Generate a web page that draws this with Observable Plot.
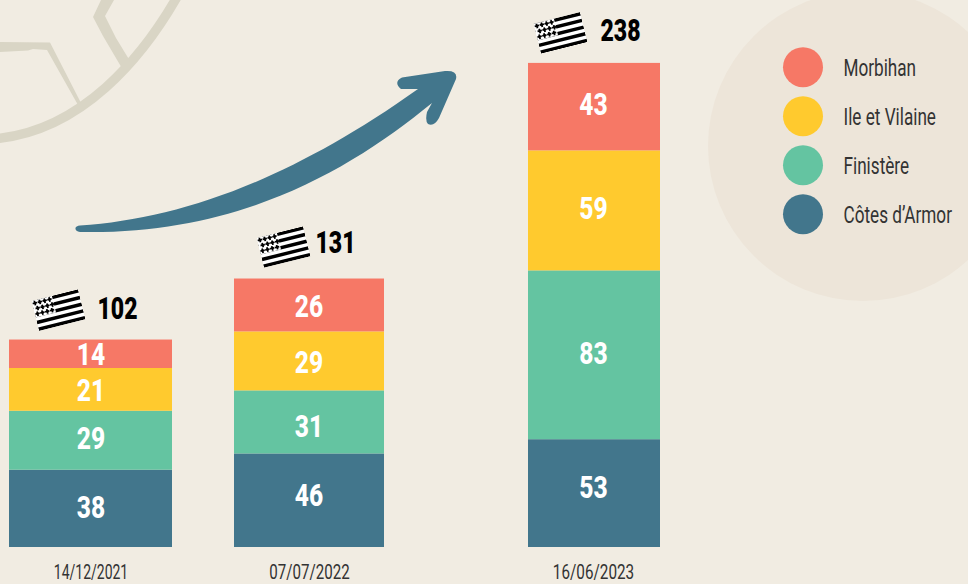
<!DOCTYPE html>
<html><head><meta charset="utf-8">
<script src="https://cdn.jsdelivr.net/npm/d3@7"></script>
<script src="https://cdn.jsdelivr.net/npm/@observablehq/plot@0.6"></script>
<style>
html,body{margin:0;padding:0;background:#f1ece2;overflow:hidden}
svg{display:block;background:transparent}
</style></head><body>
<div id="chart"></div>
<script>
const dates = ["14/12/2021", "07/07/2022", "16/06/2023"];
const departments = ["Morbihan", "Ile et Vilaine", "Finistère", "Côtes d’Armor"];
const stackOrder = ["Côtes d’Armor", "Finistère", "Ile et Vilaine", "Morbihan"];
const cotes = [38, 46, 53];
const finistere = [29, 31, 83];
const ille = [21, 29, 59];
const morbihan = [14, 26, 43];
const totals = [102, 131, 238];
const palette = ["#f67866", "#ffca2e", "#64c4a1", "#42768c"];

// layout (in x-scale units, one per pixel)
const barLeft = [9, 234, 528];
const barRight = [172, 384, 660];
const flagX = [58, 283, 560];
const totalX = [117, 335, 620];
const flagLift = [30, 32, 30.5];
const totalLift = [31.5, 36, 33];
const labelShift = [0, -0.5, -1];
const dateShift = [0, 0, -1];
const dateSqueeze = [0.70, 0.755, 0.765];
const labelNudge = [[1, 5, 6], [2, -4.5, 1.5], [-0.5, -1.5, 2.5], [-0.5, -1, 2.5]];
const unit = 2.034;

const seriesValues = [cotes, finistere, ille, morbihan];
const rows = stackOrder.flatMap((name, s) => dates.map((date, i) => ({
  date, name, value: seriesValues[s][i],
  base: d3.sum(seriesValues.slice(0, s), v => v[i]),
  nudge: labelNudge[s][i],
  left: barLeft[i], right: barRight[i], mid: (barLeft[i] + barRight[i]) / 2 + labelShift[i]
})));
const columns = dates.map((date, i) => ({
  date, total: totals[i],
  top: cotes[i] + finistere[i] + ille[i] + morbihan[i],
  flagX: flagX[i], totalX: totalX[i], flagLift: flagLift[i], totalLift: totalLift[i]
}));
const centers = barLeft.map((l, i) => (l + barRight[i]) / 2 + dateShift[i]);

// Gwenn-ha-du
function flagSvg() {
  const W = 48, H = 31, s = H / 9;
  let p = `<rect width="${W}" height="${H}" fill="#fff"/>`;
  for (let i = 0; i < 9; i += 2) p += `<rect y="${i * s}" width="${W}" height="${s}" fill="#000"/>`;
  p += `<rect width="21" height="${5 * s}" fill="#fff"/>`;
  for (let r = 0; r < 3; r++) for (let c = 0; c < 4; c++) {
    const x = 0.6 + c * 5 + (r % 2 ? 1.5 : 0), y = 0.8 + r * 5.5;
    p += `<path d="M${x + 1.3},${y}h1.8v1.3h1.3v1.8h-1.3v1.5h-1.8v-1.5h-1.3v-1.8h1.3z" fill="#000"/>`;
  }
  return "data:image/svg+xml," + encodeURIComponent(`<svg xmlns="http://www.w3.org/2000/svg" viewBox="0 0 ${W} ${H}" preserveAspectRatio="none">${p}</svg>`);
}
const flagSrc = flagSvg();

const NS = "http://www.w3.org/2000/svg";
function pathEl(d, attrs) {
  const e = document.createElementNS(NS, "path");
  e.setAttribute("d", d);
  for (const k in attrs) e.setAttribute(k, attrs[k]);
  return e;
}
// background shapes (decoration, no data)
function decor() {
  const g = document.createElementNS(NS, "g");
  const c = document.createElementNS(NS, "circle");
  c.setAttribute("cx", 863); c.setAttribute("cy", 146); c.setAttribute("r", 155);
  c.setAttribute("fill", "#ede5d9");
  g.appendChild(c);
  const globe = "#d9d5c5";
  g.appendChild(pathEl("M177,-3 C142,58 82,130 -3,138.5", {fill:"none", stroke:globe, "stroke-width":9.5}));
  g.appendChild(pathEl("M0,42 L50,42.5 L81,103 L78,105 L47,50 L33,49 L28,50.5 L0,52 Z", {fill:globe}));
  g.appendChild(pathEl("M101,0 L93,17 L103,36 L123,70 L130,61 L116,38 L105,16 L114,0 Z", {fill:globe}));
  return g;
}
function arrow() {
  return pathEl("M80,225.5 C180,219 290,180 418,89 L401,89 Q393,82 402,77.5 L445,71 Q458,70 456,79 L439,118 Q434,127 428,124 Q425,121 427,112 L432,103 C350,170 240,235 80,232 Q75,231 75.5,228 Q76,226 80,225.5 Z", {fill:"#42768c"});
}

const font = "Roboto,sans-serif";
const plot = Plot.plot({
  width: 968, height: 584,
  marginTop: 0, marginLeft: 0, marginRight: 0, marginBottom: 37,
  style: {background: "transparent", fontFamily: font},
  x: {domain: [0, 968], range: [0, 968], axis: null},
  y: {domain: [0, 547 / unit], range: [547, 0], axis: null},
  color: {domain: departments, range: palette},
  marks: [
    decor,
    Plot.rectY(rows, Plot.stackY({x: "date", x1: "left", x2: "right", y: "value", fill: "name", order: null})),
    Plot.text(rows, {x: "mid", y: d => d.base + d.value / 2 + d.nudge / unit, text: d => String(d.value),
      fill: "#fff", fontSize: 32, fontWeight: 800, lineAnchor: "middle", className: "value-label"}),
    arrow,
    Plot.image(columns, {x: "flagX", y: d => d.top + d.flagLift / unit, src: () => flagSrc,
      width: 48, height: 31, rotate: -14, preserveAspectRatio: "none"}),
    Plot.text(columns, {x: "totalX", y: d => d.top + d.totalLift / unit, text: d => String(d.total),
      fill: "#000", fontSize: 32, fontWeight: 900, lineAnchor: "middle", className: "total-label"}),
    Plot.axisX({ticks: centers, tickFormat: d => dates[centers.indexOf(d)], tickSize: 0,
      tickPadding: 17.5, fontSize: 20, fill: "#333", label: null}),
    Plot.dot(departments, {x: () => 802.5, y: (d, i) => (547 - (66.7 + 49 * i)) / unit, r: 20, fill: d => d}),
    Plot.text(departments, {x: () => 843, y: (d, i) => (547 - (67.7 + 49 * i)) / unit, text: d => d,
      textAnchor: "start", fill: "#333", fontSize: 23.5, lineAnchor: "middle", className: "legend-label"})
  ]
});
// the reference face is a condensed one: narrow the installed face around each text's own anchor
function squeeze(selector, sx) {
  plot.querySelectorAll(selector).forEach((t, i) => {
    const k = Array.isArray(sx) ? sx[i] : sx;
    t.setAttribute("transform", (t.getAttribute("transform") || "") + ` scale(${k},1)`);
  });
}
squeeze(".value-label text", 0.77);
squeeze(".total-label text", 0.72);
squeeze(".legend-label text", 0.73);
squeeze('[aria-label="x-axis tick label"] text', dateSqueeze);
document.getElementById("chart").appendChild(plot);
</script>
</body></html>
